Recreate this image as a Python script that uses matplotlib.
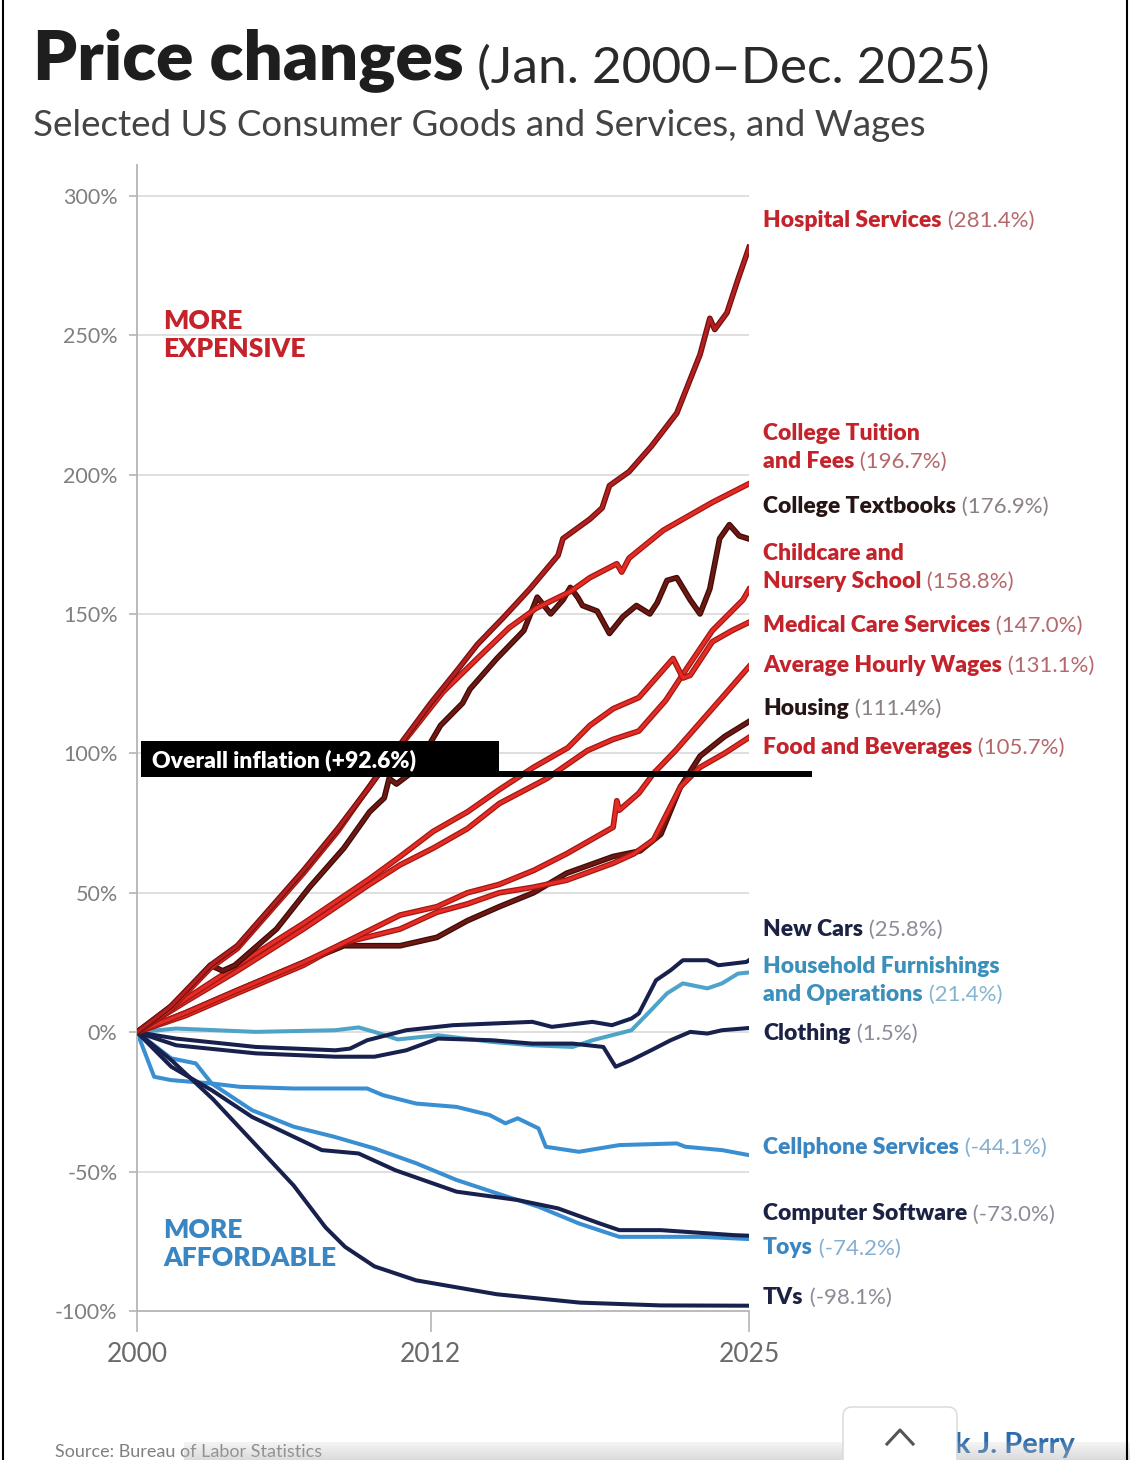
import numpy as np
import matplotlib.pyplot as plt
import matplotlib.patheffects as pe
from matplotlib.patches import Rectangle, FancyBboxPatch

plt.rcParams['font.family'] = ['Lato', 'DejaVu Sans']

#%% Data (percent change since Jan. 2000)
hospital_x = [2000, 2001.35, 2003.0, 2004.1, 2005.4, 2006.8, 2008.2, 2009.5, 2010.9, 2012.0, 2013.1, 2013.9,
              2015.0, 2016.05, 2017.2, 2017.4, 2018.5, 2019.0, 2019.3, 2020.1, 2021.0, 2022.05, 2023.0,
              2023.4, 2023.6, 2024.1, 2024.55, 2025]
hospital_y = [0, 9, 24, 31, 44, 58, 73, 88, 105, 118, 130, 139,
              149, 159, 171, 177, 184, 188, 196, 201, 210, 222, 243,
              256, 252, 258, 270, 281.4]

tuition_x = [2000, 2001.35, 2003, 2004.1, 2005.4, 2006.8, 2008.2, 2009.0, 2010.05, 2011.15, 2012.5, 2013.9,
             2015.2, 2016.3, 2017.7, 2018.5, 2019.6, 2019.8, 2020.1, 2021.5, 2023.5, 2025]
tuition_y = [0, 8, 23, 30, 43, 57, 72, 82, 95, 107, 122, 134,
             145, 152, 158, 163, 168, 165, 170, 180, 190, 196.7]

textbooks_x = [2000, 2001.5, 2003.0, 2003.5, 2004.0, 2005.7, 2007.05, 2008.45, 2009.5, 2010.1, 2010.3, 2010.6,
               2011.2, 2012.0, 2012.4, 2013.3, 2013.6, 2014.7, 2015.8, 2016.35, 2016.9, 2017.4, 2017.7,
               2018.0, 2018.2, 2018.8, 2019.3, 2019.85, 2020.4, 2020.95, 2021.25, 2021.65, 2022.05,
               2022.6, 2023.0, 2023.4, 2023.8, 2024.2, 2024.6, 2025]
textbooks_y = [0, 10, 24, 22, 24, 37, 52, 66, 79, 84, 91, 89,
               93, 104, 110, 118, 123, 134, 144, 156, 150, 155, 159.5,
               156, 153, 151, 143, 149, 153, 150, 154, 162, 163,
               155, 150, 159, 177, 182, 178, 176.9]

childcare_x = [2000, 2002, 2004.1, 2006.8, 2009.5, 2010.75, 2012.1, 2013.5, 2014.8, 2016.75, 2018.4,
               2019.45, 2020.5, 2021.6, 2022.5, 2023.5, 2024.75, 2025]
childcare_y = [0, 11, 22, 37, 53, 60, 66, 73, 82, 91, 101,
               105, 108, 119, 131, 144, 155, 158.8]

medical_x = [2000, 2002, 2004.1, 2006.8, 2009.5, 2010.75, 2012.1, 2013.5, 2014.8, 2016.2, 2017.6, 2018.5,
             2019.45, 2020.5, 2021.5, 2021.9, 2022.3, 2022.6, 2023.5, 2024.3, 2025]
medical_y = [0, 12, 24, 39, 55, 63, 72, 79, 87, 95, 102, 110,
             116, 120, 130, 134, 127, 128, 140, 144, 147.0]

wages_x = [2000, 2002, 2004.1, 2006.8, 2008.45, 2010.75, 2012.25, 2013.5, 2014.8, 2016.2, 2017.55, 2019.45,
           2019.6, 2019.7, 2020.5, 2021.1, 2022.0, 2023.0, 2024.0, 2025]
wages_y = [0, 7, 15, 25, 32, 42, 45, 50, 53, 58, 64, 73.5,
           83, 79.6, 85.7, 92.8, 101, 111, 121, 131.1]

housing_x = [2000, 2002, 2004.1, 2006.8, 2008.45, 2009.5, 2010.75, 2012.25, 2013.5, 2014.8, 2016.2, 2017.55,
             2019.45, 2020.55, 2021.4, 2022.2, 2023.0, 2024.0, 2025]
housing_y = [0, 7, 15, 25, 31, 31, 31, 34, 40, 45, 50, 57,
             63, 65, 71, 88, 99, 106, 111.4]

food_x = [2000, 2002, 2004.1, 2006.8, 2008.45, 2010.75, 2012.25, 2013.5, 2014.8, 2016.2, 2017.55, 2019.45,
          2020.3, 2021.1, 2022.2, 2023.0, 2024.0, 2025]
food_y = [0, 6, 14, 24, 32, 37, 43, 46, 50, 52, 54.5, 60.6,
          64, 69, 88, 95, 100, 105.7]

cars_x = [2000, 2001.6, 2004.85, 2008.1, 2008.7, 2009.4, 2011.0, 2012.9, 2016.15, 2016.95, 2018.6, 2019.4,
          2020.2, 2020.5, 2021.2, 2021.8, 2022.3, 2023.3, 2023.75, 2024.9, 2025]
cars_y = [0, -2.3, -5.3, -6.5, -5.9, -2.9, 0.7, 2.5, 3.7, 1.9, 3.7, 2.5,
          4.9, 6.7, 18.6, 22.2, 25.8, 25.8, 24.0, 25.2, 25.8]

furnish_x = [2000, 2001.6, 2004.85, 2008.1, 2009.05, 2009.7, 2010.65, 2012.3, 2014.5, 2016.15, 2017.8,
             2018.6, 2020.2, 2021.0, 2021.65, 2022.3, 2023.3, 2023.9, 2024.55, 2025]
furnish_y = [0, 1.3, 0.1, 0.7, 1.7, 0.1, -2.6, -1.1, -3.5, -4.7, -5.3,
             -2.9, 0.7, 7.9, 13.9, 17.5, 15.7, 17.5, 21.0, 21.4]

clothing_x = [2000, 2001.6, 2004.85, 2008.1, 2009.7, 2011.0, 2012.3, 2014.5, 2016.15, 2017.8, 2019.05,
              2019.55, 2020.2, 2021.0, 2021.8, 2022.6, 2023.3, 2023.9, 2025]
clothing_y = [0, -4.7, -7.6, -8.8, -8.8, -6.5, -2.3, -2.9, -4.1, -4.1, -5.3,
              -12.4, -10.0, -6.5, -2.9, 0.1, -0.5, 0.7, 1.5]

cell_x = [2000, 2000.7, 2001.4, 2003.05, 2004.2, 2006.4, 2009.4, 2010.05, 2011.4, 2013.05, 2014.4, 2015.05,
          2015.55, 2016.4, 2016.7, 2018.05, 2019.7, 2022.05, 2022.4, 2023.9, 2025]
cell_y = [0, -16, -17.2, -18.4, -19.6, -20.2, -20.2, -22.6, -25.6, -26.8, -29.7, -32.7,
          -30.9, -34.5, -41.1, -42.9, -40.5, -39.9, -41.1, -42.3, -44.1]

software_x = [2000, 2001.4, 2003.05, 2004.7, 2006.4, 2007.55, 2009.05, 2010.55, 2013.05, 2015.55, 2017.2,
              2018.9, 2019.7, 2021.4, 2024.4, 2025]
software_y = [0, -12.4, -20.8, -30.4, -37.5, -42.3, -43.5, -49.5, -57.2, -60.2, -63.2,
              -68.6, -71.0, -71.0, -72.8, -73.0]

toys_x = [2000, 2001.4, 2002.4, 2003.05, 2004.7, 2006.4, 2008.05, 2009.7, 2011.4, 2013.05, 2014.7, 2016.4,
          2018.05, 2019.7, 2021.4, 2023.05, 2025]
toys_y = [0, -9.4, -11.2, -18.4, -28.0, -33.9, -37.5, -41.7, -47.0, -53.0, -57.8, -62.6,
          -68.6, -73.4, -73.4, -73.4, -74.2]

tvs_x = [2000, 2001.4, 2003.1, 2004.7, 2006.4, 2007.7, 2008.5, 2009.7, 2011.4, 2014.7, 2018.1, 2021.4, 2025]
tvs_y = [0, -10, -24, -39, -55, -70, -77, -84, -89, -94, -97, -98, -98.1]

inflation = 92.6

label_names = [["Hospital Services"], ["College Tuition", "and Fees"], ["College Textbooks"],
               ["Childcare and", "Nursery School"], ["Medical Care Services"], ["Average Hourly Wages"],
               ["Housing"], ["Food and Beverages"], ["New Cars"],
               ["Household Furnishings", "and Operations"], ["Clothing"], ["Cellphone Services"],
               ["Computer Software"], ["Toys"], ["TVs"]]
label_values = [281.4, 196.7, 176.9, 158.8, 147.0, 131.1, 111.4, 105.7, 25.8, 21.4, 1.5, -44.1, -73.0, -74.2, -98.1]

#%% Styles
RED, RED_EDGE = '#e52b25', '#a11812'
HOSP, HOSP_EDGE = '#b3201f', '#741010'
BROWN, BROWN_EDGE = '#6e1813', '#3e0b07'
NAVY = '#18204d'
LBLUE = '#3a8fd2'
TEAL = '#4ea4c8'

blue_lines = [(furnish_x, furnish_y, TEAL), (cell_x, cell_y, LBLUE), (toys_x, toys_y, LBLUE),
              (cars_x, cars_y, NAVY), (clothing_x, clothing_y, NAVY), (software_x, software_y, NAVY),
              (tvs_x, tvs_y, NAVY)]
red_lines = [(housing_x, housing_y, BROWN, BROWN_EDGE), (food_x, food_y, RED, RED_EDGE),
             (wages_x, wages_y, RED, RED_EDGE), (childcare_x, childcare_y, RED, RED_EDGE),
             (medical_x, medical_y, RED, RED_EDGE), (textbooks_x, textbooks_y, BROWN, BROWN_EDGE),
             (tuition_x, tuition_y, RED, RED_EDGE), (hospital_x, hospital_y, HOSP, HOSP_EDGE)]

# label colours: (name colour, value colour)
C_RED = ('#c4232b', '#b5686b')
C_DARK = ('#261515', '#8a8282')
C_NAVY = ('#1c2243', '#8a8c98')
C_BLUE = ('#3a86c2', '#84afd2')
C_TEAL = ('#3b8fbb', '#86b6cf')
label_colors = [C_RED, C_RED, C_DARK, C_RED, C_RED, C_RED, C_DARK, C_RED,
                C_NAVY, C_TEAL, C_NAVY, C_BLUE, C_NAVY, C_BLUE, C_NAVY]
# label line positions (data units on y axis)
label_pos = [[291.0], [214.7, 204.7], [188.5], [171.7, 161.6], [145.9], [131.5], [116.1], [102.2],
             [36.9], [23.7, 13.6], [-0.4], [-41.2], [-65.2], [-77.4], [-95.0]]

#%% Figure
fig = plt.figure(figsize=(11.3, 14.6), dpi=100)
ax = fig.add_axes([137 / 1130, 149 / 1460, 612 / 1130, 1146 / 1460])
ax.set_xlim(2000, 2025)
ax.set_ylim(-100, 311)

for s in ['top', 'right']:
    ax.spines[s].set_visible(False)
for s in ['left', 'bottom']:
    ax.spines[s].set_color('#b5b5b5')
    ax.spines[s].set_linewidth(1.3)

for g in np.arange(-50, 301, 50):
    ax.axhline(g, color='#dcdcdc', lw=1.3, zorder=0)

ax.set_yticks(np.arange(-100, 301, 50))
ax.set_yticklabels([f"{int(v)}%" for v in np.arange(-100, 301, 50)])
ax.set_xticks([2000, 2012, 2025])
ax.set_xticklabels(['2000', '2012', '2025'])
ax.tick_params(axis='y', length=6, width=1.2, color='#b5b5b5', pad=8, labelsize=15.5, labelcolor='#7f7f7f')
ax.tick_params(axis='x', length=15, width=1.2, color='#b5b5b5', pad=7, labelsize=19, labelcolor='#6a6a6a')

for x, y, c in blue_lines:
    ax.plot(x, y, color=c, lw=2.9, solid_joinstyle='round', zorder=2)
for x, y, c, e in red_lines:
    ax.plot(x, y, color=c, lw=2.3, solid_joinstyle='round', zorder=3,
            path_effects=[pe.Stroke(linewidth=4.1, foreground=e), pe.Normal()])

# overall inflation marker
ax.plot([2000.16, 2027.57], [inflation, inflation], color='black', lw=4.3, clip_on=False, zorder=5,
        solid_capstyle='butt')
ax.add_patch(Rectangle((2000.16, inflation - 1.0), 14.63, 12.9, facecolor='black', edgecolor='none',
                       zorder=5, clip_on=False))
ax.text(2000.62, 97.6, f"Overall inflation (+{inflation}%)", color='white', fontsize=16.5,
        fontweight='heavy', va='center', ha='left', zorder=6)

ax.text(2001.06, 250, "MORE\nEXPENSIVE", color='#c4232b', fontsize=19, fontweight='heavy',
        va='center', ha='left', linespacing=1.2)
ax.text(2001.06, -75.8, "MORE\nAFFORDABLE", color='#3a86c2', fontsize=19, fontweight='heavy',
        va='center', ha='left', linespacing=1.2)

# right-hand labels
lab_x = (763 - 137) / 612
trans = ax.get_yaxis_transform()
for names, val, cols, ys in zip(label_names, label_values, label_colors, label_pos):
    last = None
    for name, y in zip(names, ys):
        last = ax.text(lab_x, y, name, transform=trans, color=cols[0], fontsize=16.5,
                       fontweight='heavy', va='center', ha='left', clip_on=False)
    ax.annotate(f" ({val:.1f}%)", xy=(1, 0), xycoords=last, color=cols[1], fontsize=16,
                fontweight='normal', va='bottom', ha='left')

# title block
t1 = fig.text(33 / 1130, 1 - 60 / 1460, "Price changes", fontsize=50, fontweight='heavy',
              color='#1e1e1e', va='center', ha='left')
plt.annotate(" (Jan. 2000\u2013Dec. 2025)", xy=(1, 0), xycoords=t1, fontsize=37, fontweight='normal',
             color='#2a2a2a', va='bottom', ha='left')
fig.text(33 / 1130, 1 - 125 / 1460, "Selected US Consumer Goods and Services, and Wages", fontsize=26.5,
         fontweight='normal', color='#444444', va='center', ha='left')

# footer bits
fig.text(55 / 1130, 1 - 1452 / 1460, "Source: Bureau of Labor Statistics", fontsize=13,
         color='#808080', va='center', ha='left')
fig.text(955 / 1130, 1 - 1458 / 1460, "k J. Perry", fontsize=21, fontweight='bold', color='#2b6cae',
         va='bottom', ha='left')
shade = np.zeros((40, 1, 4))
shade[:, 0, :3] = 0.72
shade[:, 0, 3] = np.linspace(0.15, 0.5, 40)
grad = fig.add_axes([184 / 1130, 0, 1 - 184 / 1130, 18 / 1460], zorder=10)
grad.imshow(shade, aspect='auto', extent=[0, 1, 0, 1], origin='upper')
grad.set_axis_off()
btn = fig.add_axes([0, 0, 1, 1], zorder=11)
btn.set_axis_off()
btn.set_xlim(0, 1130)
btn.set_ylim(1460, 0)
btn.add_patch(FancyBboxPatch((843, 1407), 114, 70, boxstyle='round,pad=0,rounding_size=9',
                             facecolor='white', edgecolor='#d8d8d8', lw=1.0))
btn.plot([887, 900, 913], [1444, 1430, 1444], color='#555555', lw=2.2)

# side borders of the screenshot
btn.plot([2.5, 2.5], [0, 1460], color='black', lw=1.5)
btn.plot([1127, 1127], [0, 1460], color='black', lw=1.5)

fig.savefig('out.png', dpi=100, facecolor='white')
